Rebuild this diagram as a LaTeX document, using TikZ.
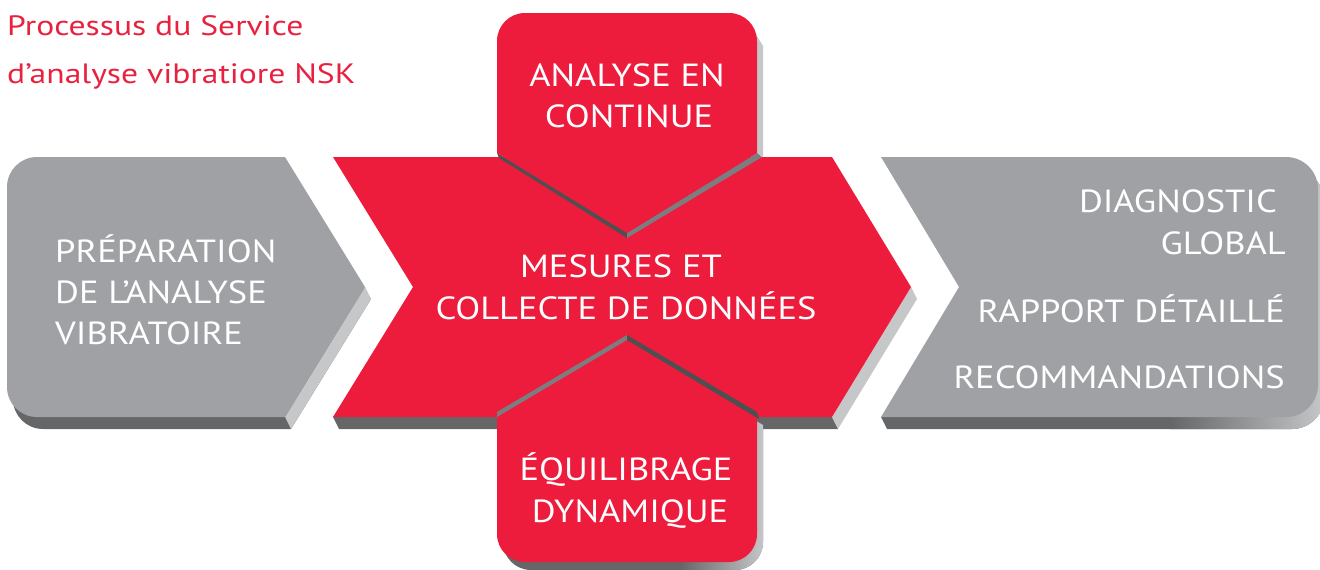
\documentclass[tikz,border=0pt]{standalone}
\usepackage{fontspec}
\setmainfont{PT Sans}
\newfontfamily\lblfont[FakeStretch=1.14]{PT Sans}
\newfontfamily\ttlfont[FakeStretch=1.2]{PT Sans}
\definecolor{nskred}{HTML}{ED1B3C}
\definecolor{titlered}{HTML}{E8213F}
\definecolor{face}{HTML}{A0A1A4}
\definecolor{sidelt}{HTML}{C6C7C9}
\definecolor{sidedk}{HTML}{656668}
\definecolor{stripedk}{HTML}{4E4F51}
\definecolor{stripemd}{HTML}{7C7D80}
\begin{document}
\begin{tikzpicture}[x=1pt,y=-1pt,
  lbl/.style={text=white,inner sep=0pt,font=\lblfont\fontsize{32}{38}\selectfont},
  ttl/.style={text=titlered,inner sep=0pt,font=\ttlfont\fontsize{28}{34}\selectfont,anchor=base west}]
\useasboundingbox (0,0) rectangle (1320,570);

% ---------- left grey block ----------
\fill[sidedk] (43,169) -- (291,169) -- (371,299) -- (291,429) -- (43,429)
  .. controls (26.4,429) and (13,415.6) .. (13,399) -- (13,199)
  .. controls (13,182.4) and (26.4,169) .. (43,169) -- cycle;
\fill[sidelt] (365,287) -- (371,299) -- (291,429) -- (285,417) -- cycle;
\fill[face] (37,157) -- (285,157) -- (365,287) -- (285,417) -- (37,417)
  .. controls (20.4,417) and (7,403.6) .. (7,387) -- (7,187)
  .. controls (7,170.4) and (20.4,157) .. (37,157) -- cycle;

% ---------- right grey block ----------
\begin{scope}
\clip (881,417) -- (887,429) -- (1292,429) .. controls (1309.7,429) and (1324,414.7) .. (1324,397)
  -- (1324,201) .. controls (1324,183.3) and (1309.7,169) .. (1292,169) -- (1000,169) -- (1000,417) -- cycle;
\fill[sidedk] (870,150) rectangle (1330,440);
\shade[left color=sidedk,right color=sidelt] (1170,150) rectangle (1325,440);
\end{scope}
\fill[face] (881,157) -- (1286,157) .. controls (1303.7,157) and (1318,171.3) .. (1318,189)
  -- (1318,385) .. controls (1318,402.7) and (1303.7,417) .. (1286,417)
  -- (881,417) -- (959,287) -- cycle;

% ---------- red chevron ----------
\fill[sidedk] (333,417) -- (832,417) -- (838,429) -- (339,429) -- cycle;
\fill[sidelt] (911,287) -- (917,299) -- (838,429) -- (832,417) -- cycle;
\fill[nskred] (333,157) -- (832,157) -- (911,287) -- (832,417) -- (333,417) -- (413,287) -- cycle;

% ---------- top box ----------
\fill[sidelt] (757,36) -- (763,46) -- (763,157) -- (757,153) -- cycle;
\fill[stripedk] (497,153) -- (627,233) -- (627,238) -- (499,158) -- cycle;
\fill[stripemd] (627,233) -- (757,153) -- (762,157) -- (627,238) -- cycle;
\fill[nskred] (497,153) -- (497,41) .. controls (497,25.5) and (509.5,13) .. (525,13)
  -- (729,13) .. controls (744.5,13) and (757,25.5) .. (757,41)
  -- (757,153) -- (627,233) -- cycle;

% ---------- bottom box ----------
\begin{scope}
\clip (633,348) -- (763,425) -- (763,542) .. controls (763,557.5) and (750.5,570) .. (735,570)
  -- (531,570) .. controls (515.5,570) and (503,557.5) .. (503,542) -- (503,425) -- cycle;
\fill[sidedk] (490,330) rectangle (770,575);
\shade[left color=sidedk,right color=sidelt] (680,330) rectangle (764,575);
\end{scope}
\fill[nskred] (627,340) -- (757,417) -- (757,534) .. controls (757,549.5) and (744.5,562) .. (729,562)
  -- (525,562) .. controls (509.5,562) and (497,549.5) .. (497,534) -- (497,417) -- cycle;
\fill[stripemd] (497,417) -- (627,340) -- (627,335) -- (497,412) -- cycle;
\fill[stripedk] (627,335) -- (757,412) -- (759,419) -- (627,340) -- cycle;

% ---------- texts ----------
\node[ttl] (t1) at (7,35) {Processus du Service};
\node[ttl] (t2) at (7,83) {d’analyse vibratiore NSK};

\node[lbl,anchor=base] (a1) at (627,86) {ANALYSE EN};
\node[lbl,anchor=base] (a2) at (629,127) {CONTINUE};

\node[lbl,anchor=base] (m1) at (621,277) {MESURES ET};
\node[lbl,anchor=base] (m2) at (626,319) {COLLECTE DE DONNÉES};

\node[lbl,anchor=base] (e1) at (626,480) {ÉQUILIBRAGE};
\node[lbl,anchor=base] (e2) at (630,522) {DYNAMIQUE};

\node[lbl,anchor=base west] (p1) at (55,262) {PRÉPARATION};
\node[lbl,anchor=base west] (p2) at (55,303) {DE L’ANALYSE};
\node[lbl,anchor=base west] (p3) at (55,344) {VIBRATOIRE};

\node[lbl,anchor=base east] (d1) at (1277,212) {DIAGNOSTIC};
\node[lbl,anchor=base east] (d2) at (1286,254) {GLOBAL};
\node[lbl,anchor=base east] (d3) at (1285,322) {RAPPORT DÉTAILLÉ};
\node[lbl,anchor=base east] (d4) at (1285,388) {RECOMMANDATIONS};
\end{tikzpicture}
\end{document}
